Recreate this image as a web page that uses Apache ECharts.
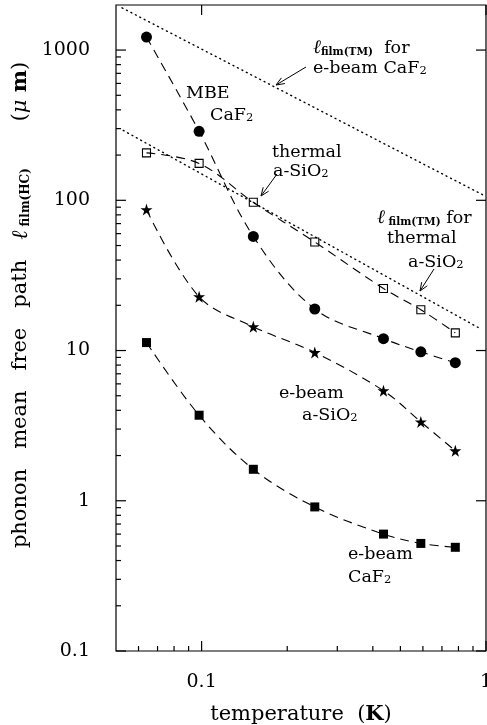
<!DOCTYPE html>
<html>
<head>
<meta charset="utf-8">
<script src="https://cdn.jsdelivr.net/npm/echarts@6/dist/echarts.min.js"></script>
<style>
html,body{margin:0;padding:0;background:#fff;}
#c{width:487px;height:725px;}
</style>
</head>
<body>
<div id="c"></div>
<script>
// ---- data ----
const temps = [0.064, 0.098, 0.152, 0.25, 0.436, 0.59, 0.78];
const mbeCaF2 = [1220, 288, 57.5, 18.9, 12.0, 9.8, 8.3];
const thermalSiO2 = [207, 176, 97, 52.8, 25.9, 18.7, 13.1];
const ebeamSiO2 = [86.7, 22.8, 14.4, 9.7, 5.4, 3.35, 2.15];
const ebeamCaF2 = [11.3, 3.71, 1.62, 0.91, 0.60, 0.52, 0.49];
const tmCaF2T = [0.0525, 1.0];
const tmCaF2L = [1910, 106];
const tmSiO2T = [0.053, 0.96];
const tmSiO2L = [292, 13.9];
const xMajorTicks = [0.1, 1];
const xMinorTicks = [0.06, 0.07, 0.08, 0.09, 0.2, 0.3, 0.4, 0.5, 0.6, 0.7, 0.8, 0.9];
const yMajorTicks = [0.1, 1, 10, 100, 1000];
const yMinorTicks = [0.2,0.3,0.4,0.5,0.6,0.7,0.8,0.9, 2,3,4,5,6,7,8,9, 20,30,40,50,60,70,80,90, 200,300,400,500,600,700,800,900];
const xLabels = ['0.1', '1'];
const yLabels = ['0.1', '1', '10', '100', '1000'];

const FONT = '"DejaVu Serif", "Liberation Serif", serif';
const pair = (xs, ys) => xs.map((x, i) => [x, ys[i]]);
const STAR = 'path://M50,2 L61,36 L97,36 L68,57 L79,92 L50,71 L21,92 L32,57 L3,36 L39,36 Z';

function fmt(list, labs) {
  return function (v) {
    const s = +Number(v).toPrecision(6);
    const i = list.indexOf(s);
    return i >= 0 ? labs[i] : '';
  };
}

const dashed = { type: [9, 6], width: 1.1, color: '#000' };
const dotted = { type: [1, 4], width: 1.4, color: '#000', cap: 'round' };

function dataSeries(ys, symbol, size, item) {
  return {
    type: 'line', data: pair(temps, ys), smooth: 0.35,
    symbol: symbol, symbolSize: size, showSymbol: true,
    lineStyle: dashed, itemStyle: item || { color: '#000' },
    z: 3
  };
}

const xTickData = xMajorTicks.map(v => [v, 1, 1]).concat(xMinorTicks.map(v => [v, 1, 0]));
const yTickData = yMajorTicks.map(v => [0.1, v, 1]).concat(yMinorTicks.map(v => [0.1, v, 0]));

const chart = echarts.init(document.getElementById('c'), null, { renderer: 'canvas' });

function arrow(x1, y1, x2, y2) {
  const ang = Math.atan2(y1 - y2, x1 - x2);
  const L = 9, a = 0.38;
  return {
    type: 'group', children: [
      { type: 'line', shape: { x1: x1, y1: y1, x2: x2, y2: y2 }, style: { stroke: '#000', lineWidth: 1 } },
      { type: 'polyline', shape: { points: [
        [x2 + L * Math.cos(ang + a), y2 + L * Math.sin(ang + a)], [x2, y2],
        [x2 + L * Math.cos(ang - a), y2 + L * Math.sin(ang - a)] ] },
        style: { stroke: '#000', lineWidth: 1, fill: null } }
    ]
  };
}

const richBase = {
  n: { fontFamily: FONT, fontSize: 17.5, color: '#000' },
  l: { fontFamily: FONT, fontSize: 19, fontStyle: 'italic', color: '#000' },
  s: { fontFamily: FONT, fontSize: 10.5, fontWeight: 'bold', color: '#000', verticalAlign: 'bottom' },
  sub: { fontFamily: FONT, fontSize: 11.5, color: '#000', verticalAlign: 'bottom' }
};

function label(x, y, text) {
  return {
    type: 'text', x: x, y: y,
    style: {
      text: text, font: '17.5px ' + FONT, fill: '#000',
      textAlign: 'left', textVerticalAlign: 'middle', align: 'left', verticalAlign: 'middle',
      rich: richBase
    }
  };
}

const option = {
  animation: false,
  backgroundColor: '#fff',
  grid: { left: 116, right: 1, top: 5, bottom: 74, outerBoundsMode: 'none', containLabel: false, show: true, borderColor: '#000', borderWidth: 1.2, backgroundColor: 'transparent' },
  xAxis: {
    type: 'log', logBase: 10, min: 0.05, max: 1,
    axisLine: { show: false }, axisTick: { show: false }, splitLine: { show: false },
    axisLabel: { formatter: fmt(xMajorTicks, xLabels), fontFamily: FONT, fontSize: 19, color: '#000', margin: 22, showMinLabel: true, showMaxLabel: true, hideOverlap: false },
    name: '{n|temperature  (}{b|K}{n|)}', nameLocation: 'middle', nameGap: 53,
    nameTextStyle: {
      fontFamily: FONT, fontSize: 21, color: '#000',
      rich: { n: { fontFamily: FONT, fontSize: 21, color: '#000' }, b: { fontFamily: FONT, fontSize: 21, fontWeight: 'bold', color: '#000' } }
    }
  },
  yAxis: {
    type: 'log', logBase: 10, min: 0.1, max: 1995.26,
    axisLine: { show: false }, axisTick: { show: false }, splitLine: { show: false },
    axisLabel: { formatter: fmt(yMajorTicks, yLabels), fontFamily: FONT, fontSize: 19, color: '#000', margin: 26 }
  },
  graphic: [
    {
      type: 'text', x: 21, y: 305, rotation: Math.PI / 2,
      style: {
        text: '{n|phonon   mean   free   path   }{l|ℓ}{s| film(HC)}{n|       (}{mu|μ}{b| m}{n|)}',
        font: '21px ' + FONT, fill: '#000',
        textAlign: 'center', textVerticalAlign: 'middle', align: 'center', verticalAlign: 'middle',
        rich: {
          n: { fontFamily: FONT, fontSize: 21, color: '#000' },
          l: { fontFamily: FONT, fontSize: 22, fontStyle: 'italic', color: '#000' },
          s: { fontFamily: FONT, fontSize: 12, fontWeight: 'bold', color: '#000', verticalAlign: 'bottom' },
          mu: { fontFamily: FONT, fontSize: 21, fontStyle: 'italic', color: '#000' },
          b: { fontFamily: FONT, fontSize: 21, fontWeight: 'bold', color: '#000' }
        }
      }
    },
    label(313, 48, '{l|ℓ}{s|film(TM)}{n|  for}'),
    label(313, 68, '{n|e-beam CaF}{sub|2}'),
    label(186, 93, '{n|MBE}'),
    label(210, 115, '{n|CaF}{sub|2}'),
    label(272, 152, '{n|thermal}'),
    label(273, 171, '{n|a-SiO}{sub|2}'),
    label(377, 218, '{l|ℓ}{s| film(TM)}{n| for}'),
    label(387, 238, '{n|thermal}'),
    label(408, 262, '{n|a-SiO}{sub|2}'),
    label(279, 393, '{n|e-beam}'),
    label(302, 415, '{n|a-SiO}{sub|2}'),
    label(348, 554, '{n|e-beam}'),
    label(348, 577, '{n|CaF}{sub|2}'),
    arrow(306, 67, 276, 85),
    arrow(277, 174, 261, 196),
    arrow(434, 269, 420, 291)
  ],
  series: [
    { type: 'line', data: pair(tmCaF2T, tmCaF2L), showSymbol: false, symbol: 'none', lineStyle: dotted, z: 2 },
    { type: 'line', data: pair(tmSiO2T, tmSiO2L), showSymbol: false, symbol: 'none', lineStyle: dotted, z: 2 },
    dataSeries(mbeCaF2, 'circle', 11),
    dataSeries(thermalSiO2, 'rect', 8, { color: 'rgba(255,255,255,0)', borderColor: '#000', borderWidth: 1.1 }),
    dataSeries(ebeamSiO2, STAR, 12),
    dataSeries(ebeamCaF2, 'rect', 9),
    {
      type: 'custom', data: xTickData, clip: false, silent: true, z: 5,
      renderItem: function (params, api) {
        const cs = params.coordSys;
        const x = api.coord([api.value(0), 1])[0];
        const major = api.value(2) === 1;
        const bottom = cs.y + cs.height;
        const st = { stroke: '#000', lineWidth: 1.2 };
        const ch = [{ type: 'line', shape: { x1: x, y1: bottom, x2: x, y2: bottom - (major ? 10 : 5) }, style: st }];
        if (major) ch.push({ type: 'line', shape: { x1: x, y1: cs.y, x2: x, y2: cs.y + 10 }, style: st });
        return { type: 'group', children: ch };
      }
    },
    {
      type: 'custom', data: yTickData, clip: false, silent: true, z: 5,
      renderItem: function (params, api) {
        const cs = params.coordSys;
        const y = api.coord([0.1, api.value(1)])[1];
        const major = api.value(2) === 1;
        const right = cs.x + cs.width;
        const st = { stroke: '#000', lineWidth: 1.2 };
        const ch = [{ type: 'line', shape: { x1: cs.x, y1: y, x2: cs.x + (major ? 10 : 5), y2: y }, style: st }];
        if (major) ch.push({ type: 'line', shape: { x1: right, y1: y, x2: right - 10, y2: y }, style: st });
        return { type: 'group', children: ch };
      }
    }
  ]
};
chart.setOption(option);
</script>
</body>
</html>
